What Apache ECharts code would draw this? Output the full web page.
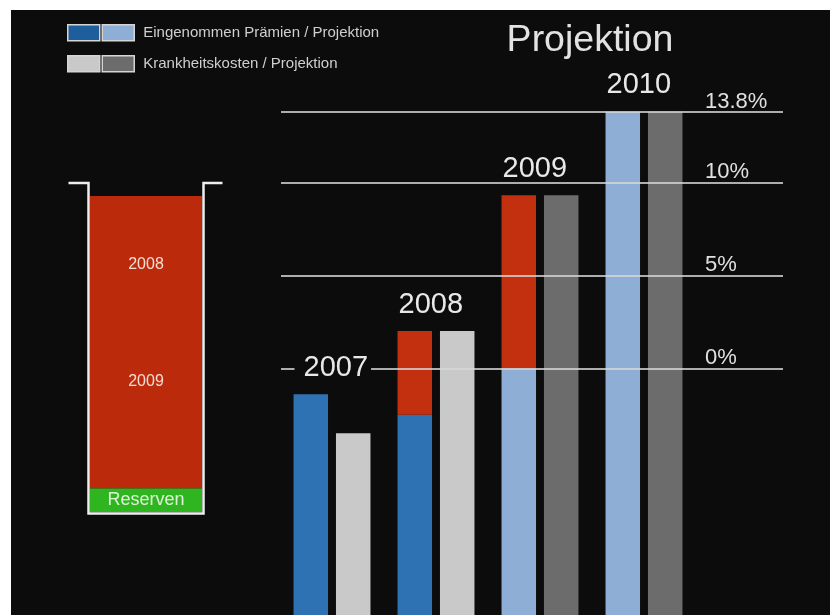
<!DOCTYPE html>
<html>
<head>
<meta charset="utf-8">
<script src="https://cdn.jsdelivr.net/npm/echarts@6/dist/echarts.min.js"></script>
<style>
  html, body { margin: 0; padding: 0; background: #ffffff; }
  #chart { position: absolute; left: 11px; top: 10px; width: 819px; height: 605px; }
</style>
</head>
<body>
<div id="chart"></div>
<script>
// Werte in % (Projektion)
var years = ['2007', '2008', '2009', '2010'];
var isActual = [true, true, false, false];
var praemien = [-1.4, -2.5, 0, 13.8];      // Eingenommen Prämien / Projektion (Oberkante)
var defizit = [null, 2.0, 9.3, null];      // rote Lücke bis hierhin
var kosten = [-3.5, 2.0, 9.3, 13.8];       // Krankheitskosten / Projektion
var levels = [0, 5, 10, 13.8];
var axisMin = -13.27, axisMax = 13.8;

// Reserven-Behälter (von unten nach oben)
var reserve = 1.1;
var bucketYears = ['2009', '2008'];
var bucketUse = [9.2, 4.4];
var bucketMax = 15.3;

var FONT = "'Liberation Sans', Arial, sans-serif";
var BG = '#0c0c0c';

var chart = echarts.init(document.getElementById('chart'));

function rel(arr, useActual) {
    return years.map(function (y, i) {
        if (isActual[i] !== useActual) return 0;
        return arr[i] - axisMin;
    });
}

var baseP = years.map(function () { return axisMin; });
var premActual = rel(praemien, true);
var premProj = rel(praemien, false);
var defPart = years.map(function (y, i) {
    return defizit[i] == null ? 0 : defizit[i] - praemien[i];
});
var yearLabels = years.map(function (y, i) {
    var top = defizit[i] == null ? praemien[i] : defizit[i];
    var item = { value: 0 };
    if (top < 0) {
        // Beschriftung liegt auf der 0%-Linie
        item.label = { backgroundColor: BG, padding: [0, 3, 0, 9], offset: [22, 0] };
    }
    return item;
});
var kostActual = rel(kosten, true);
var kostProj = rel(kosten, false);

function bar(name, data, stack, color, extra) {
    var s = {
        name: name,
        type: 'bar',
        stack: stack,
        stackStrategy: 'all',
        xAxisIndex: 0,
        yAxisIndex: 0,
        barWidth: 34.5,
        barGap: '23%',
        data: data,
        itemStyle: { color: color },
        silent: true,
        z: 2
    };
    if (extra) for (var k in extra) s[k] = extra[k];
    return s;
}

function bucketBar(name, value, stack, color, label) {
    return {
        name: name,
        type: 'bar',
        stack: stack,
        xAxisIndex: 3,
        yAxisIndex: 3,
        barWidth: '100%',
        barGap: '-100%',
        data: [value],
        itemStyle: { color: color },
        silent: true,
        z: stack === 'lbl' ? 4 : 2,
        label: label ? Object.assign({
            show: true,
            position: 'inside',
            formatter: '{a}',
            fontFamily: FONT
        }, label) : { show: false }
    };
}

var usedTotal = bucketUse.reduce(function (a, b) { return a + b; }, 0);
var bucketSeries = [
    bucketBar('Reserven', reserve, 'fill', '#2fb51f', { fontSize: 18, color: '#dcf3d3' }),
    bucketBar('verbraucht', usedTotal, 'fill', '#bc2a0c'),
    bucketBar('lbl-base', reserve, 'lbl', 'rgba(0,0,0,0)')
].concat(bucketYears.map(function (y, i) {
    return bucketBar(y, bucketUse[i], 'lbl', 'rgba(0,0,0,0)', {
        fontSize: 16,
        color: '#f4ddd5',
        offset: y === '2008' ? [0, 21] : [0, -8]
    });
}));

var gridTop = 101.7;
var bucketGrid = { left: 79, top: 173, width: 112, bottom: 103 };

var legendBase = {
    left: 51,
    itemWidth: 32, itemHeight: 16, itemGap: 1,
    icon: 'rect',
    selectedMode: false,
    itemStyle: { borderColor: '#d5d5d5', borderWidth: 1.5 },
    textStyle: { fontFamily: FONT, fontSize: 15, color: '#cfcfcf', padding: [0, 0, 0, 4] }
};

var option = {
    animation: false,
    backgroundColor: BG,
    title: {
        text: 'Projektion',
        left: 574,
        top: 7,
        textAlign: 'center',
        textStyle: { fontFamily: FONT, fontSize: 37.5, fontWeight: 'normal', color: '#e2e2e2' }
    },
    legend: [
        Object.assign({}, legendBase, {
            top: 9,
            data: [{ name: 'Eingenommen Prämien', itemStyle: { color: '#1f5e9d' } }, 'Prämien Projektion'],
            formatter: function (name) {
                return name === 'Prämien Projektion' ? 'Eingenommen Prämien / Projektion' : '';
            }
        }),
        Object.assign({}, legendBase, {
            top: 40,
            data: ['Krankheitskosten', 'Kosten Projektion'],
            formatter: function (name) {
                return name === 'Kosten Projektion' ? 'Krankheitskosten / Projektion' : '';
            }
        })
    ],
    grid: [
        { left: 269, width: 416, top: gridTop, bottom: 0 },
        { left: 270, right: 47, top: gridTop, bottom: 0 },
        { left: 695, right: 47, top: gridTop, bottom: 0 },
        bucketGrid
    ],
    xAxis: [
        { gridIndex: 0, type: 'category', data: years, show: false },
        { gridIndex: 1, type: 'value', min: 0, max: 1, show: false },
        { gridIndex: 2, type: 'value', min: 0, max: 1, show: false },
        { gridIndex: 3, type: 'category', data: [''], show: false }
    ],
    yAxis: [
        { gridIndex: 0, type: 'value', min: axisMin, max: axisMax, show: false },
        { gridIndex: 1, type: 'value', min: axisMin, max: axisMax, show: false },
        { gridIndex: 2, type: 'value', min: axisMin, max: axisMax, show: false },
        { gridIndex: 3, type: 'value', min: 0, max: bucketMax, show: false }
    ],
    series: [
        bar('basis-p', baseP, 'p', 'rgba(0,0,0,0)'),
        bar('Eingenommen Prämien', premActual, 'p', '#2f72b4'),
        bar('Prämien Projektion', premProj, 'p', '#8eaed5'),
        bar('Defizit', defPart, 'p', '#c2300f'),
        bar('Jahr', yearLabels, 'p', 'rgba(0,0,0,0)', {
            z: 5,
            label: {
                show: true,
                position: 'top',
                distance: 12,
                offset: [16, 0],
                formatter: '{b}',
                fontFamily: FONT,
                fontSize: 29,
                lineHeight: 29,
                color: '#e8e8e8'
            }
        }),
        bar('basis-k', baseP, 'k', 'rgba(0,0,0,0)'),
        bar('Krankheitskosten', kostActual, 'k', '#c9c9c9'),
        bar('Kosten Projektion', kostProj, 'k', '#6c6c6c'),
        {
            name: 'linien',
            type: 'line',
            xAxisIndex: 1,
            yAxisIndex: 1,
            data: [],
            z: 3,
            markLine: {
                silent: true,
                symbol: ['none', 'none'],
                lineStyle: { color: 'rgba(215,215,215,0.8)', width: 2, type: 'solid' },
                label: { show: false },
                data: levels.map(function (v) { return { yAxis: v }; })
            }
        },
        {
            name: 'prozent',
            type: 'line',
            xAxisIndex: 2,
            yAxisIndex: 2,
            data: [],
            z: 4,
            markLine: {
                silent: true,
                symbol: ['none', 'none'],
                lineStyle: { color: 'rgba(0,0,0,0)', width: 1, type: 'solid' },
                label: {
                    show: true,
                    position: 'insideStartTop',
                    distance: -1,
                    formatter: function (p) { return p.value + '%'; },
                    fontFamily: FONT,
                    fontSize: 22,
                    color: '#e0e0e0'
                },
                data: levels.map(function (v) { return { yAxis: v }; })
            }
        }
    ].concat(bucketSeries)
};

chart.setOption(option);

// Behälter-Umriss aus dem Raster des Behälters
var H = chart.getHeight();
var bl = bucketGrid.left - 1.5;
var br = bucketGrid.left + bucketGrid.width + 1.5;
var bt = bucketGrid.top;
var bb = H - bucketGrid.bottom + 1.5;
chart.setOption({
    graphic: [{
        type: 'polyline',
        shape: { points: [[bl - 20, bt], [bl, bt], [bl, bb], [br, bb], [br, bt], [br + 19, bt]] },
        style: { stroke: '#eeeeee', lineWidth: 2.5, fill: null },
        silent: true,
        z: 10
    }]
});
</script>
</body>
</html>
